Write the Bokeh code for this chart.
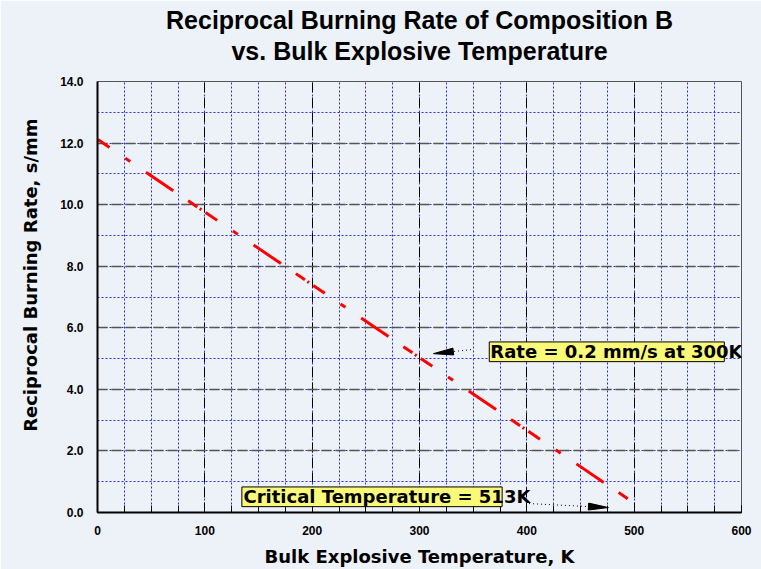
import math
from bokeh.plotting import figure
from bokeh.models import (Range1d, SingleIntervalTicker, PrintfTickFormatter, Title,
                          Label, BoxAnnotation)
from bokeh.embed import file_html
from bokeh.resources import INLINE

# ---- data ----
temperature_K = [-5, 100, 200, 300, 400, 494]
reciprocal_rate = [12.24, 9.76, 7.40, 5.03, 2.67, 0.45]

title_lines = ["Reciprocal Burning Rate of Composition B", "vs. Bulk Explosive Temperature"]
x_label = "Bulk Explosive Temperature, K"
y_label = "Reciprocal Burning Rate, s/mm"
note_rate = "Rate = 0.2 mm/s at 300K"
note_crit = "Critical Temperature = 513K"

BG = "#edf2f9"
W, H = 761, 569
p = figure(width=W, height=H, x_range=Range1d(0, 600), y_range=Range1d(0, 14),
           output_backend="svg", toolbar_location=None,
           min_border_left=96, min_border_right=20, min_border_top=81, min_border_bottom=51,
           background_fill_color=BG, border_fill_color=BG,
           outline_line_color="#555555", outline_line_width=1)

# titles (second line added first: later ones go farther from the frame)
tstyle = dict(align="center", text_font="Liberation Sans", text_font_size="25px",
              text_font_style="bold", text_color="black", text_line_height=0.95)
p.add_layout(Title(text=title_lines[1], standoff=33, **tstyle), "above")
p.add_layout(Title(text=title_lines[0], standoff=-31, **tstyle), "above")

# y-axis title on the left, shifted upward like the reference
p.add_layout(Title(text=y_label, align="right", offset=37, text_font="DejaVu Sans",
                   text_font_size="18px", text_font_style="bold", text_color="black",
                   standoff=34), "left")

# axes
p.xaxis.ticker = SingleIntervalTicker(interval=100, num_minor_ticks=4)
p.yaxis.ticker = SingleIntervalTicker(interval=2, num_minor_ticks=2)
p.yaxis.formatter = PrintfTickFormatter(format="%.1f")
for ax in (p.xaxis, p.yaxis):
    ax.axis_line_color = "black"
    ax.axis_line_width = 2
    ax.major_label_text_font = "Liberation Sans"
    ax.major_label_text_font_style = "bold"
    ax.major_label_text_font_size = "12px"
    ax.major_label_text_color = "black"
    ax.axis_label_text_font = "DejaVu Sans"
    ax.axis_label_text_font_style = "bold"
    ax.axis_label_text_font_size = "18px"
    ax.axis_label_text_color = "black"
p.xaxis.axis_label = x_label
p.xaxis.major_tick_in = 7
p.xaxis.major_tick_out = 0
p.xaxis.minor_tick_in = 7
p.xaxis.minor_tick_out = 0
p.xaxis.major_tick_line_color = "black"
p.xaxis.minor_tick_line_color = "black"
p.xaxis.major_label_standoff = 13
p.xaxis.axis_label_standoff = 8
p.yaxis.major_tick_in = 0
p.yaxis.major_tick_out = 0
p.yaxis.minor_tick_in = 0
p.yaxis.minor_tick_out = 0
p.yaxis.major_label_standoff = 14

# grids
p.xgrid.grid_line_color = "black"
p.xgrid.grid_line_width = 1
p.xgrid.grid_line_dash = "10 5"
p.xgrid.minor_grid_line_color = "#2a2aee"
p.xgrid.minor_grid_line_width = 1
p.xgrid.minor_grid_line_dash = "2 2"
p.ygrid.grid_line_color = "#555555"
p.ygrid.grid_line_width = 1.6
p.ygrid.grid_line_dash = "10 4"
p.ygrid.minor_grid_line_color = "#2a2aee"
p.ygrid.minor_grid_line_width = 1
p.ygrid.minor_grid_line_dash = "2 2"

# data line
p.line(temperature_K, reciprocal_rate, line_color="#ff0000", line_width=3,
       line_dash="2 5 14 19 6 19 33 18 11 3")

# ---- annotations ----
PX_X = 645.0 / 600.0   # pixels per K
PX_Y = 437.0 / 14.0    # pixels per s/mm


def arrow(tail, tip, head_len=20, half_w=3.5):
    dxp = (tip[0] - tail[0]) * PX_X
    dyp = (tip[1] - tail[1]) * PX_Y
    L = math.hypot(dxp, dyp)
    ux, uy = dxp / L, dyp / L
    bx, by = -ux * head_len, -uy * head_len
    nx, ny = -uy * half_w, ux * half_w
    base = (tip[0] + bx / PX_X, tip[1] + by / PX_Y)
    p.line([tail[0], base[0]], [tail[1], base[1]], line_color="black", line_width=1,
           line_dash="1 3")
    xs = [tip[0], tip[0] + (bx + nx) / PX_X, tip[0] + (bx - nx) / PX_X]
    ys = [tip[1], tip[1] + (by + ny) / PX_Y, tip[1] + (by - ny) / PX_Y]
    p.patch(xs, ys, fill_color="black", line_color="black", line_width=1)


arrow((348, 5.29), (313, 5.16))
arrow((402, 0.29), (476, 0.16))

box_style = dict(fill_color="#fafa78", fill_alpha=1, line_color="black", line_width=1,
                 line_alpha=1)
p.add_layout(BoxAnnotation(left=365, right=584, bottom=4.9, top=5.54, **box_style))
p.add_layout(BoxAnnotation(left=134.5, right=377, bottom=0.19, top=0.83, **box_style))

lab_style = dict(text_font="DejaVu Sans", text_font_style="bold", text_font_size="18px",
                 text_color="black", text_baseline="middle", text_align="left")
p.add_layout(Label(x=366, y=5.22, text=note_rate, **lab_style))
p.add_layout(Label(x=136, y=0.51, text=note_crit, **lab_style))

open("out.html", "w").write(file_html(p, INLINE))
